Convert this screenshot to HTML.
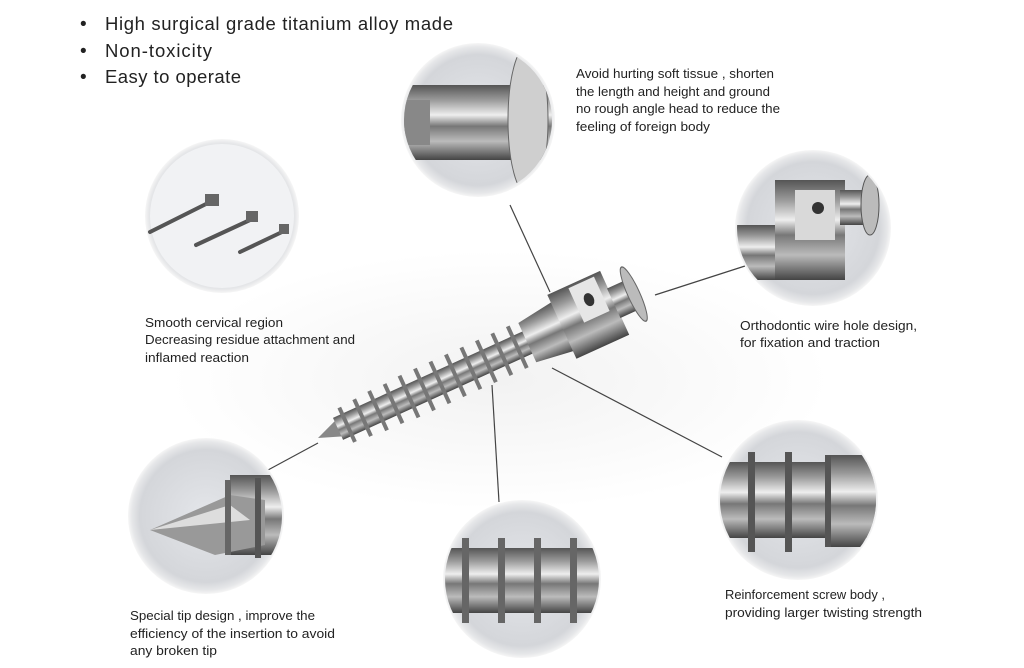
<!DOCTYPE html>
<html><head><meta charset="utf-8"><style>
html,body{margin:0;padding:0;background:#fff;}
svg{display:block;}
text{font-family:"Liberation Sans",sans-serif;fill:#222;}
</style></head><body>
<svg width="1024" height="668" viewBox="0 0 1024 668" xmlns="http://www.w3.org/2000/svg">
<defs>
<radialGradient id="bg" cx="50%" cy="50%" r="50%">
<stop offset="0" stop-color="#e4e6ea"/><stop offset="0.85" stop-color="#d4d6da"/><stop offset="0.95" stop-color="#e6e7e9"/><stop offset="1" stop-color="#f6f6f6"/>
</radialGradient>
<linearGradient id="metal" x1="0" y1="0" x2="0" y2="1">
<stop offset="0" stop-color="#555"/><stop offset="0.2" stop-color="#9a9a9a"/><stop offset="0.4" stop-color="#eee"/><stop offset="0.55" stop-color="#777"/><stop offset="0.75" stop-color="#bbb"/><stop offset="1" stop-color="#444"/>
</linearGradient>
<radialGradient id="floor" cx="50%" cy="50%" r="50%">
<stop offset="0" stop-color="#f2f2f2"/><stop offset="1" stop-color="#fff"/>
</radialGradient>
<clipPath id="c1"><circle cx="478" cy="120" r="74"/></clipPath>
<clipPath id="c3"><circle cx="813" cy="228" r="76"/></clipPath>
<clipPath id="c4"><circle cx="206" cy="516" r="76"/></clipPath>
<clipPath id="c5"><circle cx="522" cy="579" r="77"/></clipPath>
<clipPath id="c6"><circle cx="798" cy="500" r="78"/></clipPath>
</defs>
<rect width="1024" height="668" fill="#fff"/>
<ellipse cx="500" cy="380" rx="330" ry="130" fill="url(#floor)"/>

<text x="80" y="30" font-size="19">•</text><text x="105" y="30" font-size="18.5" textLength="348">High surgical grade titanium alloy made</text>
<text x="80" y="57" font-size="19">•</text><text x="105" y="57" font-size="18.5" textLength="107">Non-toxicity</text>
<text x="80" y="83" font-size="19">•</text><text x="105" y="83" font-size="18.5" textLength="136">Easy to operate</text>

<g stroke="#444" stroke-width="1.2" fill="none">
<line x1="510" y1="205" x2="550" y2="292"/>
<line x1="655" y1="295" x2="745" y2="266"/>
<line x1="552" y1="368" x2="722" y2="457"/>
<line x1="492" y1="385" x2="499" y2="502"/>
<line x1="318" y1="443" x2="268" y2="470"/>
</g>

<circle cx="478" cy="120" r="77" fill="url(#bg)"/>
<g clip-path="url(#c1)">
<rect x="400" y="85" width="160" height="75" fill="url(#metal)"/>
<ellipse cx="528" cy="120" rx="20" ry="75" fill="#cfcfcf" stroke="#666"/>
<rect x="400" y="100" width="30" height="45" fill="#888"/>
</g>

<circle cx="222" cy="216" r="77" fill="url(#bg)"/>
<circle cx="222" cy="216" r="72" fill="#f1f2f4"/>
<g stroke="#555" stroke-width="4" stroke-linecap="round">
<line x1="150" y1="232" x2="210" y2="202"/>
<line x1="196" y1="245" x2="250" y2="220"/>
<line x1="240" y1="252" x2="282" y2="232"/>
</g>
<g fill="#666"><rect x="205" y="194" width="14" height="12"/><rect x="246" y="211" width="12" height="11"/><rect x="279" y="224" width="10" height="10"/></g>

<circle cx="813" cy="228" r="78" fill="url(#bg)"/>
<g clip-path="url(#c3)">
<rect x="730" y="225" width="60" height="55" fill="url(#metal)"/>
<rect x="775" y="180" width="70" height="100" fill="url(#metal)"/>
<rect x="795" y="190" width="40" height="50" fill="#d9d9d9"/>
<circle cx="818" cy="208" r="6" fill="#333"/>
<rect x="840" y="190" width="30" height="35" fill="url(#metal)"/>
<ellipse cx="870" cy="205" rx="9" ry="30" fill="#bbb" stroke="#555"/>
</g>

<circle cx="206" cy="516" r="78" fill="url(#bg)"/>
<g clip-path="url(#c4)">
<rect x="230" y="475" width="60" height="80" fill="url(#metal)"/>
<polygon points="150,530 230,495 265,500 265,545 215,555" fill="#999"/>
<polygon points="150,530 230,505 250,520" fill="#ddd"/>
<rect x="225" y="480" width="6" height="75" fill="#666"/>
<rect x="255" y="478" width="6" height="80" fill="#555"/>
</g>

<circle cx="522" cy="579" r="79" fill="url(#bg)"/>
<g clip-path="url(#c5)">
<rect x="440" y="548" width="170" height="65" fill="url(#metal)"/>
<g fill="#666"><rect x="462" y="538" width="7" height="85"/><rect x="498" y="538" width="7" height="85"/><rect x="534" y="538" width="7" height="85"/><rect x="570" y="538" width="7" height="85"/></g>
</g>

<circle cx="798" cy="500" r="80" fill="url(#bg)"/>
<g clip-path="url(#c6)">
<rect x="715" y="462" width="170" height="76" fill="url(#metal)"/>
<rect x="830" y="455" width="50" height="92" fill="url(#metal)"/>
<g fill="#555"><rect x="748" y="452" width="7" height="100"/><rect x="785" y="452" width="7" height="100"/><rect x="825" y="455" width="6" height="92"/></g>
</g>

<g transform="translate(318,438) rotate(-24.5) scale(1,1.35)">
<polygon points="0,0 25,-7 25,7" fill="#888"/>
<rect x="22" y="-9" width="210" height="18" fill="url(#metal)"/>
<g fill="#777">
<rect x="30" y="-14" width="4" height="28"/><rect x="47" y="-15" width="4" height="30"/><rect x="64" y="-16" width="4" height="32"/><rect x="81" y="-16" width="4" height="32"/><rect x="98" y="-17" width="4" height="34"/><rect x="115" y="-17" width="4" height="34"/><rect x="132" y="-17" width="4" height="34"/><rect x="149" y="-17" width="4" height="34"/><rect x="166" y="-17" width="4" height="34"/><rect x="183" y="-17" width="4" height="34"/><rect x="200" y="-17" width="4" height="34"/><rect x="217" y="-17" width="4" height="34"/>
</g>
<polygon points="230,-16 270,-20 270,20 230,16" fill="url(#metal)"/>
<rect x="268" y="-26" width="58" height="52" fill="url(#metal)"/>
<rect x="290" y="-24" width="28" height="28" fill="#e6e6e6"/>
<circle cx="304" cy="-10" r="5" fill="#333"/>
<rect x="325" y="-12" width="20" height="24" fill="url(#metal)"/>
<ellipse cx="347" cy="0" rx="6" ry="22" fill="#bbb" stroke="#666"/>
</g>

<g font-size="12.5">
<text x="576" y="78" textLength="198" lengthAdjust="spacingAndGlyphs">Avoid hurting soft tissue , shorten</text>
<text x="576" y="96" textLength="194" lengthAdjust="spacingAndGlyphs">the length and height and ground</text>
<text x="576" y="113" textLength="204" lengthAdjust="spacingAndGlyphs">no rough angle head to reduce the</text>
<text x="576" y="131" textLength="134" lengthAdjust="spacingAndGlyphs">feeling of foreign body</text>
<text x="145" y="327" textLength="138" lengthAdjust="spacingAndGlyphs">Smooth cervical  region</text>
<text x="145" y="344" textLength="210" lengthAdjust="spacingAndGlyphs">Decreasing residue attachment and</text>
<text x="145" y="362" textLength="104" lengthAdjust="spacingAndGlyphs">inflamed reaction</text>
<text x="740" y="330" textLength="177" lengthAdjust="spacingAndGlyphs">Orthodontic wire hole design,</text>
<text x="740" y="347" textLength="140" lengthAdjust="spacingAndGlyphs">for fixation and traction</text>
<text x="130" y="620" textLength="185" lengthAdjust="spacingAndGlyphs">Special tip design , improve the</text>
<text x="130" y="638" textLength="205" lengthAdjust="spacingAndGlyphs">efficiency of the insertion to avoid</text>
<text x="130" y="655" textLength="87" lengthAdjust="spacingAndGlyphs">any broken tip</text>
<text x="725" y="599" textLength="160" lengthAdjust="spacingAndGlyphs">Reinforcement screw body ,</text>
<text x="725" y="617" textLength="197" lengthAdjust="spacingAndGlyphs">providing larger twisting strength</text>
</g>
</svg>
</body></html>
